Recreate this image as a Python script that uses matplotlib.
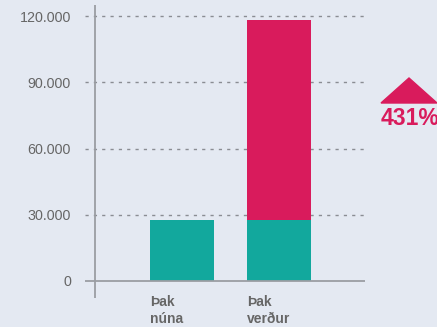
import matplotlib.pyplot as plt
from matplotlib.patches import Polygon

categories = ['Þak\nnúna', 'Þak\nverður']
base = [27400, 27400]
extra = [0, 90700]
yticks = [0, 30000, 60000, 90000, 120000]
ytick_labels = ['0', '30.000', '60.000', '90.000', '120.000']
change_label = '431%'

bg = '#e4e9f2'
teal = '#12a89d'
red = '#d91b5c'
grey = '#666666'
fonts = ['Liberation Sans', 'DejaVu Sans']

plt.rcParams['lines.scale_dashes'] = False
plt.rcParams['font.family'] = fonts

W, H = 437, 327
fig = plt.figure(figsize=(W / 100, H / 100), dpi=100, facecolor=bg)
# axes spans pixels x 85..365, y 5..298
ax = fig.add_axes([85 / W, (H - 298) / H, (365 - 85) / W, (298 - 5) / H])
ax.set_facecolor(bg)

x = [0, 1]
width = 0.66
ax.bar(x, base, width=width, color=teal, zorder=3)
ax.bar(x, extra, width=width, bottom=base, color=red, zorder=3)

ax.set_xlim(-1.0, 1.887)
ax.set_ylim(-7700, 125000)

for v in yticks[1:]:
    ax.axhline(v, color='#8a8d93', lw=1.0, ls=(0, (2.3, 3.7)), zorder=1)
ax.axhline(0, color='#9a9da3', lw=1.3, zorder=4)

for s in ax.spines.values():
    s.set_visible(False)
ax.axvline(-0.9, color='#9a9da3', lw=1.3, zorder=4)

ax.set_yticks(yticks)
ax.set_yticklabels(ytick_labels, fontsize=10.3, color=grey)
ax.tick_params(axis='y', length=0, pad=10)
ax.set_xticks([])

for xi, lab in zip(x, categories):
    ax.text(xi - width / 2, -6200, lab, ha='left', va='top', fontsize=10,
            fontweight='bold', color=grey, linespacing=1.3)

tri = Polygon([[381 / W, 1 - 103 / H], [409 / W, 1 - 78 / H], [437 / W, 1 - 103 / H]],
              closed=True, transform=fig.transFigure, color=red)
fig.patches.append(tri)
fig.text(381 / W, 1 - 125 / H, change_label, ha='left', va='baseline', fontsize=16.5,
         fontweight='bold', color=red)

fig.savefig('out.png', dpi=100, facecolor=bg)
